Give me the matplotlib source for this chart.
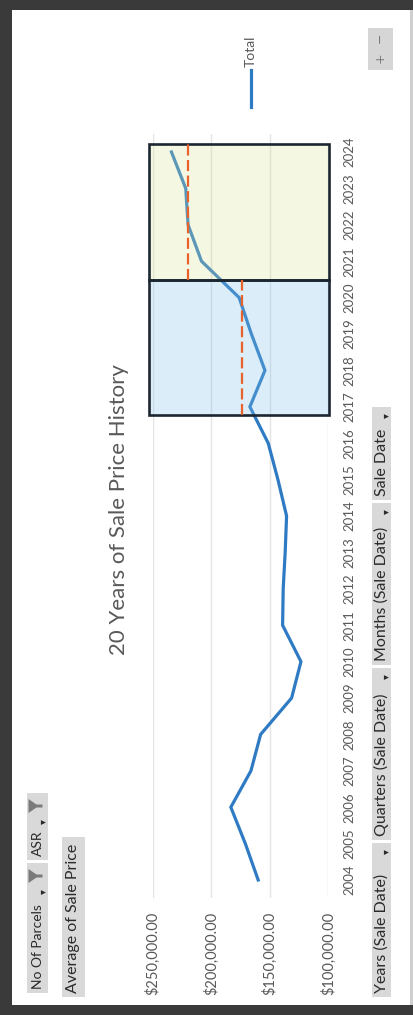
import matplotlib
matplotlib.use("Agg")
import matplotlib.pyplot as plt
from matplotlib.patches import Rectangle, Polygon
from matplotlib.lines import Line2D

plt.rcParams["font.family"] = ["Lato", "DejaVu Sans"]

YEARS = list(range(2004, 2025))
AVG_PRICE = [160000, 171000, 183400, 166200, 157900, 131400, 123400,
             139100, 138600, 136900, 135700, 143100, 151400, 167100,
             154200, 165800, 176300, 208500, 220000, 222000, 234200]
VALUE_TICKS = [100000, 150000, 200000, 250000]

PERIOD_START = [2016.77, 2020.48]
PERIOD_END = [2020.48, 2024.23]
PERIOD_MEAN = [174200, 220000]
PERIOD_FILL = ["#7fc0e8", "#d8e39a"]

TITLE = "20 Years of Sale Price History"
SERIES = "Total"
BOTTOM_FIELDS = ["Years (Sale Date)", "Quarters (Sale Date)",
                 "Months (Sale Date)", "Sale Date"]
FILTER_FIELDS = ["No Of Parcels", "ASR"]
VALUE_FIELD = "Average of Sale Price"

W, H = 413, 1015
LINE_COLOR = "#2e7bc4"
GREY_TXT = "#595959"
BTN_TXT = "#2a2a2a"
BTN_FILL = "#d9d9d9"


def fx(x):
    return x / W


def fy(y):
    return 1 - y / H


fig = plt.figure(figsize=(W / 100, H / 100), dpi=100)
fig.patch.set_facecolor("#3a3a3a")
fig.add_artist(Rectangle((fx(12), fy(1005)), (410 - 12) / W, (1005 - 10) / H,
                         transform=fig.transFigure, facecolor="white",
                         edgecolor="none", zorder=-2))
fig.add_artist(Rectangle((fx(410), fy(1005)), 3 / W, (1005 - 10) / H,
                         transform=fig.transFigure, facecolor="#cfcfcf",
                         edgecolor="none", zorder=-2))

# plot area: years run bottom->top, values run right->left
top_px, bot_px = 133.8, 898.2
left_px, right_px = 153, 328.3
ax = fig.add_axes([fx(left_px), fy(bot_px), (right_px - left_px) / W,
                   (bot_px - top_px) / H])
ax.patch.set_alpha(0)
ax.set_xlim(250000, 100000)
ax.set_ylim(2003.5, 2024.5)
for sp in ax.spines.values():
    sp.set_visible(False)

ax.set_xticks(VALUE_TICKS)
ax.set_xticklabels([f"${v:,.2f}" for v in VALUE_TICKS])
ax.set_yticks(YEARS)
ax.yaxis.tick_right()
ax.tick_params(axis="x", length=0, pad=10, labelsize=10.5,
               labelcolor=GREY_TXT, labelrotation=90)
ax.tick_params(axis="y", length=0, pad=11, labelsize=9.5,
               labelcolor=GREY_TXT, labelrotation=90)
for lab in ax.get_yticklabels():
    lab.set_va("center")
ax.grid(axis="x", color="#e4e4e4", linewidth=1)
ax.grid(axis="y", visible=False)
ax.set_axisbelow(True)

ax.plot(AVG_PRICE, YEARS, color=LINE_COLOR, lw=2.3, zorder=2,
        solid_joinstyle="miter")

for s, e, m, c in zip(PERIOD_START, PERIOD_END, PERIOD_MEAN, PERIOD_FILL):
    ax.add_patch(Rectangle((99000, s), 154000, e - s, facecolor=c, alpha=0.28,
                           edgecolor="none", zorder=3, clip_on=False))
    ax.add_patch(Rectangle((99000, s), 154000, e - s, fill=False,
                           edgecolor="#1c2631", lw=1.9, zorder=4, clip_on=False))
    ax.vlines(m, s, e, colors="#e8622c", linestyles=(0, (5, 2)), lw=1.6,
              zorder=5)

fig.text(fx(119), fy(510), TITLE, rotation=90, ha="center", va="center",
         fontsize=16, color=GREY_TXT)

# legend
fig.add_artist(Line2D([fx(251), fx(251)], [fy(70), fy(107)],
                      transform=fig.transFigure, color=LINE_COLOR, lw=2.3))
fig.text(fx(251), fy(67), SERIES, rotation=90, ha="center", va="bottom",
         fontsize=10, color=GREY_TXT)


def button(x0, x1, yb, yt, label, arrow=True, funnel=False, fs=11.5):
    fig.add_artist(Rectangle((fx(x0), fy(yb)), (x1 - x0) / W, (yb - yt) / H,
                             transform=fig.transFigure, facecolor=BTN_FILL,
                             edgecolor="none", zorder=-1))
    cx = (x0 + x1) / 2
    fig.text(fx(cx), fy(yb - 4), label, rotation=90, ha="center",
             va="bottom", fontsize=fs, color=BTN_TXT)
    if arrow:
        ay = yt + (29 if funnel else 9)
        fig.text(fx(x1 - 5), fy(ay), "\u25be", rotation=90, ha="center",
                 va="center", fontsize=7, color=BTN_TXT,
                 family=["DejaVu Sans"])
    if funnel:
        fcx, fcy = cx - 2, yt + 13
        pts = [(fcx - 7, fcy - 7), (fcx - 7, fcy + 7), (fcx + 1, fcy + 1.5),
               (fcx + 7, fcy + 1.5), (fcx + 7, fcy - 1.5), (fcx + 1, fcy - 1.5)]
        fig.add_artist(Polygon([(fx(a), fy(b)) for a, b in pts], closed=True,
                               transform=fig.transFigure, facecolor="#7a7a7a",
                               edgecolor="none"))


# field buttons along the bottom
spans = [(997, 843), (840, 668), (665, 503), (500, 407)]
for (yb, yt), lab in zip(spans, BOTTOM_FIELDS):
    button(372, 391, yb, yt, lab)

# filter buttons top-left
fspans = [(993, 863), (860, 793)]
for (yb, yt), lab in zip(fspans, FILTER_FIELDS):
    button(27, 48, yb, yt, lab, funnel=True, fs=10)
button(62, 85, 997, 837, VALUE_FIELD, arrow=False)

# zoom +/- buttons
fig.add_artist(Rectangle((fx(368), fy(70)), 25 / W, 42 / H,
                         transform=fig.transFigure, facecolor="#d6d6d6",
                         edgecolor="none", zorder=-1))
fig.text(fx(380), fy(38), "\u2212", rotation=90, ha="center", va="center",
         fontsize=9, color="#7a7a7a", family=["DejaVu Sans"])
fig.text(fx(380), fy(58), "+", rotation=90, ha="center", va="center",
         fontsize=9, color="#7a7a7a", family=["DejaVu Sans"])

fig.savefig("out.png", dpi=100)
